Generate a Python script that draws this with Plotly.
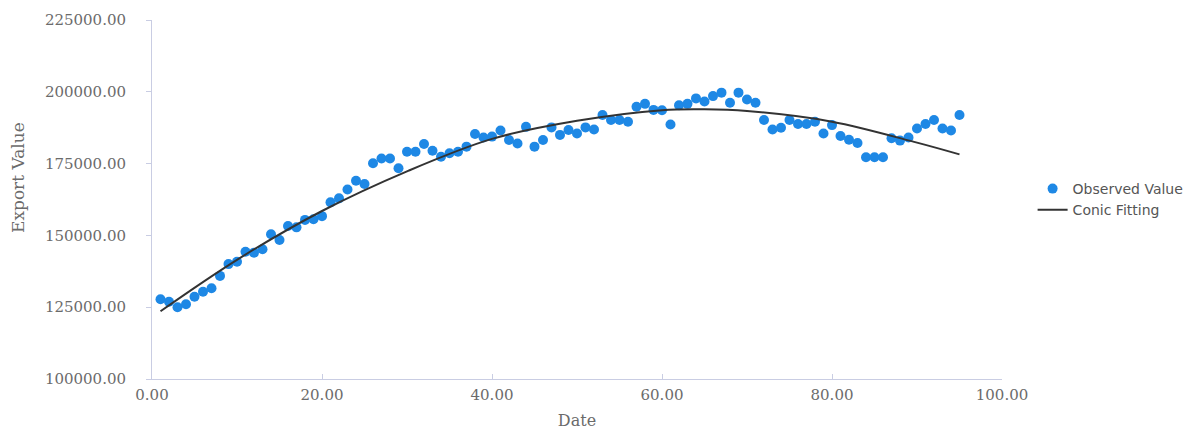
import plotly.graph_objects as go

# Observed export values at dates 1..95
dates = list(range(1, 96))
observed = [
    127750, 126900, 125000, 126000, 128650, 130400, 131600, 135900, 140000, 140800,
    144300, 144000, 145200, 150400, 148400, 153300, 152800, 155400, 155600, 156700,
    161500, 162900, 166000, 169000, 167900, 175100, 176800, 176800, 173400, 179100,
    179100, 181800, 179500, 177400, 178600, 179100, 180900, 185300, 184100, 184400,
    186500, 183200, 182000, 187800, 180900, 183200, 187600, 185000, 186700, 185500,
    187600, 186900, 191900, 190200, 190200, 189600, 194800, 195800, 193700, 193600,
    188600, 195300, 195800, 197700, 196600, 198500, 199700, 196200, 199700, 197300,
    196200, 190200, 186900, 187500, 190200, 188800, 188800, 189600, 185500, 188400,
    184600, 183300, 182200, 177200, 177200, 177200, 183800, 183000, 184100, 187200,
    188800, 190200, 187200, 186500, 191900,
]

# Fitted curve values
fit_x = [1, 10, 20, 30, 40, 50, 60, 65, 70, 80, 90, 95]
fit_y = [123600, 141500, 158500, 172300, 183600, 189900, 193600, 193900, 193300, 189600, 182300, 178200]

axis_col = "#c9cde3"
tick_font = dict(family="DejaVu Serif", size=15, color="#6b6b6b")

fig = go.Figure()
fig.add_trace(go.Scatter(
    x=dates, y=observed, mode="markers", name="Observed Value",
    marker=dict(color="#1E88E5", size=10, line=dict(width=0)),
))
fig.add_trace(go.Scatter(
    x=fit_x, y=fit_y, mode="lines", name="Conic Fitting",
    line=dict(color="#333333", width=2, shape="spline"),
))

fig.update_layout(
    width=1187, height=422,
    margin=dict(l=144, r=193, t=12, b=51, autoexpand=False),
    paper_bgcolor="white", plot_bgcolor="white",
    showlegend=True,
    legend=dict(x=1.036, xanchor="left", y=0.5, yanchor="middle",
                font=dict(family="DejaVu Sans", size=14, color="#555555"),
                bgcolor="rgba(0,0,0,0)", tracegroupgap=0),
    xaxis=dict(
        range=[0, 100], tickvals=[0, 20, 40, 60, 80, 100], tickformat=".2f",
        showgrid=False, zeroline=False, showline=True, linecolor=axis_col, linewidth=1,
        ticks="inside", ticklen=5, tickcolor=axis_col, tickfont=tick_font,
        ticklabelstandoff=2, automargin=False,
        title=dict(text="Date", font=dict(family="DejaVu Serif", size=16, color="#6b6b6b"), standoff=12),
    ),
    yaxis=dict(
        range=[100000, 225000], tickvals=[100000, 125000, 150000, 175000, 200000, 225000],
        tickformat=".2f",
        showgrid=False, zeroline=False, showline=True, linecolor=axis_col, linewidth=1,
        ticks="outside", ticklen=5, tickcolor=axis_col, tickfont=tick_font,
        ticklabelstandoff=17, automargin=False,
    ),
    annotations=[dict(
        text="Export Value", textangle=-90, showarrow=False,
        xref="paper", yref="paper", x=(18 - 152) / 850, y=(379 - 178) / 359,
        xanchor="center", yanchor="middle",
        font=dict(family="DejaVu Serif", size=17, color="#6b6b6b"),
    )],
)

fig.write_html("out.html")
